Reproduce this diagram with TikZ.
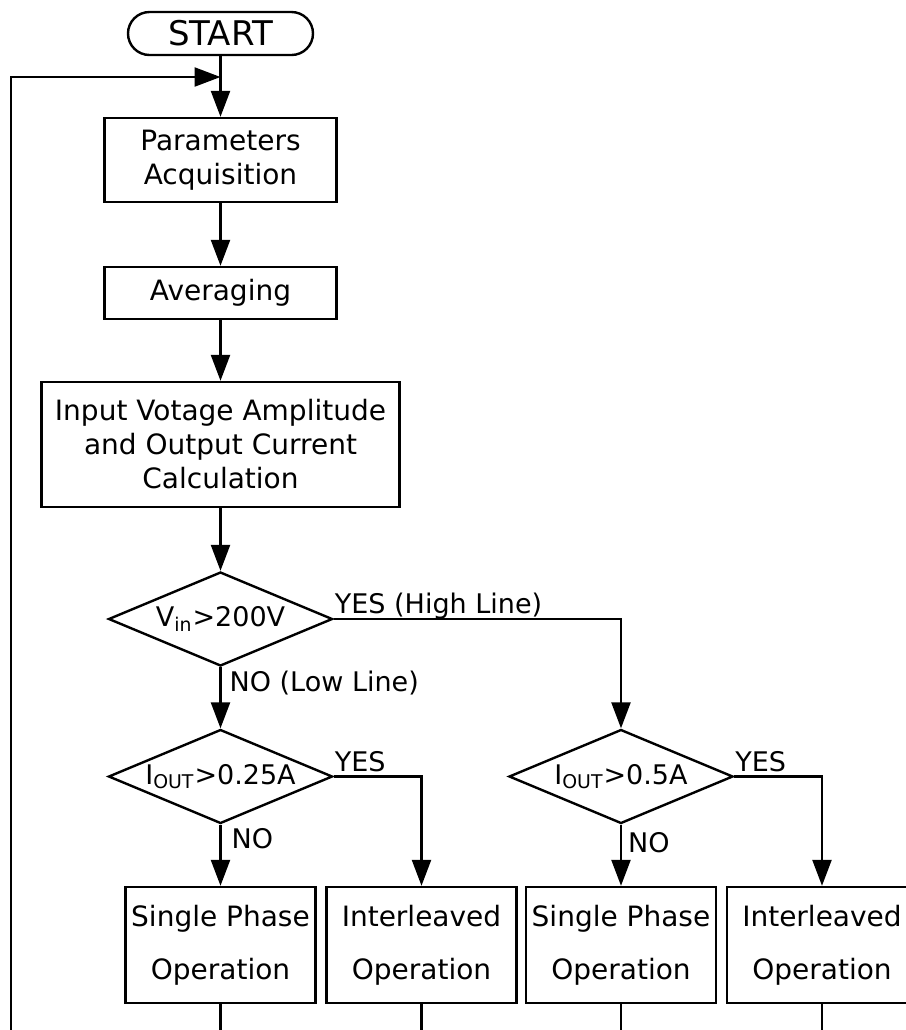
\documentclass[tikz,border=0pt]{standalone}
\usepackage{fontspec}
\setmainfont{DejaVu Sans}
\usetikzlibrary{shapes.geometric,arrows.meta}

\begin{document}
\begin{tikzpicture}[x=0.5pt,y=-0.5pt,
  line width=1.2pt,
  arr/.style={-{Triangle[length=13pt,width=9.5pt]}},
  boxstyle/.style={draw,rectangle,inner sep=0pt,align=center,
    font=\fontsize{14pt}{17pt}\selectfont},
  opbox/.style={draw,rectangle,inner sep=0pt,align=center,
    minimum width=95pt,minimum height=58pt,
    font=\fontsize{14pt}{26.5pt}\selectfont},
  dia/.style={draw,diamond,inner sep=0pt,minimum width=112pt,minimum height=47pt,
    label={[font=\fontsize{13.5pt}{16pt}\selectfont,inner sep=0pt]center:#1}},
  lbl/.style={inner sep=0pt,font=\fontsize{13.5pt}{16pt}\selectfont},
  term/.style={draw,rectangle,rounded corners=10.75pt,inner sep=0pt,
    minimum width=92.5pt,minimum height=21.5pt,font=\fontsize{17pt}{20pt}\selectfont}
]
\useasboundingbox (0,0) rectangle (906,1030);
\clip (0,0) rectangle (906,1030);

% main column
\node[term] (start) at (220.5,33.5) {START};
\node[boxstyle,minimum width=116pt,minimum height=42pt] (params) at (220.5,160)
  {Parameters\\Acquisition};
\node[boxstyle,minimum width=116pt,minimum height=26pt] (avg) at (220.5,293) {Averaging};
\node[boxstyle,minimum width=179pt,minimum height=62.5pt] (calc) at (220.5,444.5)
  {Input Votage Amplitude\\and Output Current\\Calculation};

% decisions
\node[dia={V\textsubscript{in}>200V}] (d1) at (220.5,619) {};
\node[dia={I\textsubscript{OUT}>0.25A}] (d2) at (220.5,776.5) {};
\node[dia={I\textsubscript{OUT}>0.5A}] (d3) at (621,776.5) {};

% operating modes
\node[opbox] (b1) at (220.5,945) {Single Phase\\Operation};
\node[opbox] (b2) at (421.5,945) {Interleaved\\Operation};
\node[opbox] (b3) at (621,945) {Single Phase\\Operation};
\node[opbox] (b4) at (822,945) {Interleaved\\Operation};

% loop return and open ends
\coordinate (join) at (220.5,77);
\coordinate (loopfoot) at (11,1045);
\coordinate (f1) at (b1.south |- 0,1045);
\coordinate (f2) at (b2.south |- 0,1045);
\coordinate (f3) at (b3.south |- 0,1045);
\coordinate (f4) at (b4.south |- 0,1045);

% connectors
\draw[arr] (start) -- (params);
\draw[arr] (loopfoot) |- (join);
\draw[arr] (params) -- (avg);
\draw[arr] (avg) -- (calc);
\draw[arr] (calc) -- (d1);
\draw[arr] (d1.east) -| (d3.north);
\draw[arr] (d1.south) -- (d2.north);
\draw[arr] (d2.south) -- (b1.north);
\draw[arr] (d2.east) -| (b2.north);
\draw[arr] (d3.south) -- (b3.north);
\draw[arr] (d3.east) -| (b4.north);
\draw (b1.south) -- (f1);
\draw (b2.south) -- (f2);
\draw (b3.south) -- (f3);
\draw (b4.south) -- (f4);

% branch labels
\node[lbl,anchor=base west] (yes1) at ([yshift=3pt]d1.east) {YES (High Line)};
\node[lbl,anchor=base west] (no1) at ([xshift=4pt,yshift=-12pt]d1.south) {NO (Low Line)};
\node[lbl,anchor=base west] (yes2) at ([yshift=2.5pt]d2.east) {YES};
\node[lbl,anchor=base west] (no2) at ([xshift=5pt,yshift=-12pt]d2.south) {NO};
\node[lbl,anchor=base west] (yes3) at ([yshift=2.5pt]d3.east) {YES};
\node[lbl,anchor=base west] (no3) at ([xshift=3pt,yshift=-14pt]d3.south) {NO};
\end{tikzpicture}
\end{document}
